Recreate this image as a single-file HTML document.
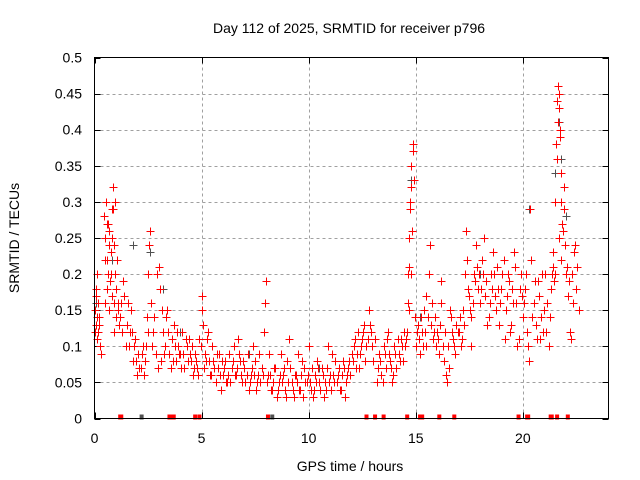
<!DOCTYPE html>
<html><head><meta charset="utf-8"><style>
html,body{margin:0;padding:0;background:#fff}
svg{display:block;font-family:"Liberation Sans",sans-serif}
</style></head><body>
<svg id="chart" width="640" height="480" viewBox="0 0 640 480" xmlns="http://www.w3.org/2000/svg">
<rect width="640" height="480" fill="#fff"/>
<text x="349" y="33" font-size="14" text-anchor="middle" fill="#000">Day 112 of 2025, SRMTID for receiver p796</text>
<text x="350" y="471" font-size="14" text-anchor="middle" fill="#000">GPS time / hours</text>
<text transform="translate(19,238) rotate(-90)" font-size="14" text-anchor="middle" fill="#000">SRMTID / TECUs</text>
<g id="grid"></g>
<g id="ticks"></g>
<g id="grey"></g>
<g id="red"></g>
<g id="flags"></g>
<rect x="94.5" y="57.5" width="514" height="361" fill="none" stroke="#000" stroke-width="1"/>
</svg>
<script>
const xTicks=[0,5,10,15,20];
const yTicks=[0,0.05,0.1,0.15,0.2,0.25,0.3,0.35,0.4,0.45,0.5];
const yTickLabels=["0","0.05","0.1","0.15","0.2","0.25","0.3","0.35","0.4","0.45","0.5"];
const redTimes=[0.02,0.05,0.08,0.1,0.12,0.15,0.18,0.2,0.25,0.3,
0.45,0.5,0.55,0.6,0.65,0.7,0.75,0.8,0.85,0.9,0.95,1.0,1.05,1.1,0.5,0.6,0.7,0.8,0.9,1.0,
1.2,1.3,1.4,1.5,1.6,1.7,1.8,1.9,2.0,1.35,1.55,1.75,
2.1,2.2,2.3,2.4,2.5,2.5,2.55,2.6,2.65,2.7,2.8,2.9,3.0,2.85,2.95,
3.1,3.2,3.3,3.4,3.5,3.6,3.7,3.8,3.9,4.0,4.1,4.2,4.3,4.4,4.5,4.6,4.7,4.8,4.9,5.0,5.0,5.05,3.35,3.55,
5.2,5.4,5.5,5.6,5.8,6.0,6.1,6.2,6.4,6.5,6.6,6.8,6.9,7.0,7.2,7.3,7.5,7.6,7.8,7.9,7.95,8.0,5.3,5.9,6.7,7.4,
8.1,8.3,8.4,8.5,8.6,8.8,8.9,9.0,9.2,9.3,9.4,9.5,9.6,9.8,9.9,10.0,10.1,10.3,10.4,10.5,10.6,10.8,11.0,11.1,11.2,11.4,11.5,11.6,11.8,12.0,8.7,9.1,10.2,10.9,11.7,
12.1,12.2,12.3,12.4,12.5,12.6,12.7,12.9,13.0,13.2,13.3,13.4,13.5,13.6,13.7,13.8,13.9,14.0,14.1,14.2,14.3,14.4,12.8,13.1,
14.6,14.65,14.7,14.75,14.8,14.85,14.9,14.7,14.8,14.95,15.0,15.1,15.2,
15.3,15.4,15.5,15.6,15.65,15.7,15.8,15.9,16.0,16.1,16.2,16.3,16.4,16.5,16.6,16.7,16.8,16.9,15.5,16.2,16.45,
17.0,17.1,17.2,17.3,17.35,17.4,17.5,17.6,17.7,17.8,17.9,18.0,18.1,18.2,18.3,18.4,18.5,18.6,18.7,18.8,18.9,19.0,19.1,19.2,19.3,19.4,19.5,19.6,19.7,19.8,19.9,20.0,17.6,18.35,19.15,19.75,
20.1,20.2,20.3,20.35,20.4,20.5,20.6,20.7,20.8,20.9,21.0,21.1,21.2,21.3,21.4,21.5,21.55,21.6,21.65,21.7,21.75,21.8,21.85,21.9,21.95,22.0,22.1,22.2,22.25,22.3,22.4,22.5,22.6,21.45,21.5,21.7,21.8,22.45];
const redValues=[0.15,0.18,0.13,0.2,0.11,0.16,0.12,0.14,0.1,0.09,
0.28,0.25,0.3,0.22,0.27,0.26,0.2,0.29,0.32,0.24,0.3,0.18,0.22,0.16,0.16,0.18,0.15,0.17,0.12,0.14,
0.14,0.12,0.17,0.13,0.1,0.15,0.08,0.11,0.06,0.19,0.16,0.12,
0.07,0.09,0.06,0.1,0.12,0.2,0.24,0.26,0.16,0.1,0.14,0.2,0.21,0.09,0.07,
0.08,0.12,0.1,0.15,0.09,0.11,0.13,0.08,0.1,0.09,0.12,0.07,0.1,0.11,0.08,0.06,0.09,0.07,0.11,0.15,0.17,0.13,0.14,0.07,
0.08,0.06,0.1,0.07,0.09,0.06,0.08,0.05,0.07,0.1,0.06,0.08,0.05,0.07,0.04,0.06,0.08,0.05,0.07,0.12,0.16,0.19,0.12,0.04,0.11,0.1,
0.06,0.04,0.07,0.03,0.05,0.06,0.04,0.08,0.05,0.03,0.06,0.09,0.04,0.07,0.05,0.1,0.04,0.06,0.08,0.05,0.07,0.04,0.06,0.09,0.05,0.07,0.04,0.08,0.06,0.09,0.09,0.11,0.03,0.1,0.03,
0.1,0.07,0.12,0.09,0.11,0.13,0.1,0.12,0.08,0.05,0.09,0.06,0.1,0.07,0.12,0.08,0.05,0.1,0.07,0.09,0.11,0.08,0.15,0.11,
0.12,0.2,0.25,0.3,0.35,0.38,0.33,0.15,0.2,0.14,0.1,0.13,0.09,
0.12,0.15,0.1,0.2,0.24,0.13,0.11,0.14,0.12,0.09,0.16,0.08,0.06,0.1,0.15,0.12,0.1,0.13,0.17,0.19,0.05,
0.12,0.1,0.15,0.2,0.26,0.22,0.17,0.14,0.2,0.24,0.18,0.16,0.22,0.25,0.19,0.14,0.2,0.23,0.17,0.21,0.13,0.18,0.22,0.15,0.2,0.12,0.18,0.23,0.16,0.11,0.2,0.14,0.1,0.13,0.11,0.1,
0.18,0.12,0.08,0.29,0.22,0.16,0.13,0.19,0.11,0.2,0.15,0.12,0.1,0.18,0.23,0.3,0.38,0.44,0.46,0.43,0.4,0.34,0.27,0.32,0.24,0.2,0.17,0.12,0.11,0.2,0.23,0.18,0.15,0.19,0.2,0.25,0.22,0.24];
const redTimes2=[0.03,0.07,0.14,0.22,0.28,0.48,0.58,0.68,0.78,0.88,0.98,1.08,0.62,0.72,0.82,0.92,1.15,1.25,1.45,1.65,1.85,1.95,
2.05,2.15,2.25,2.35,2.45,2.75,3.05,3.15,3.25,3.45,3.65,3.75,3.85,3.95,4.05,4.15,4.25,4.35,4.45,4.55,4.65,4.75,4.85,4.95,
5.1,5.15,5.25,5.35,5.45,5.55,5.65,5.7,5.75,5.85,5.95,6.05,6.15,6.25,6.3,6.35,6.45,6.55,6.65,6.75,6.85,6.95,7.05,7.1,7.15,7.25,7.35,7.45,7.55,7.65,7.7,7.75,7.85,
8.05,8.15,8.2,8.25,8.35,8.45,8.55,8.65,8.75,8.85,8.95,9.05,9.15,9.25,9.35,9.45,9.55,9.65,9.7,9.75,9.85,9.95,10.05,10.15,10.25,10.35,10.45,10.55,10.65,10.7,10.75,10.85,10.95,11.05,11.15,11.25,11.3,11.35,11.45,11.55,11.65,11.75,11.85,11.9,11.95,
12.05,12.15,12.25,12.35,12.45,12.55,12.65,12.75,12.85,12.95,13.25,13.35,13.45,13.55,13.65,13.75,13.85,13.95,14.05,14.15,14.25,14.35,14.45,14.5,14.55,
14.62,14.68,14.72,14.78,14.82,14.88,15.05,15.15,15.25,15.35,15.45,15.55,15.75,15.85,15.95,16.05,16.15,16.25,16.35,16.55,16.65,16.75,16.85,16.95,
17.05,17.15,17.25,17.45,17.55,17.65,17.75,17.85,17.95,18.05,18.15,18.25,18.45,18.55,18.65,18.75,18.85,18.95,19.05,19.25,19.35,19.45,19.55,19.65,19.85,19.95,
20.05,20.15,20.25,20.45,20.55,20.65,20.75,20.85,20.95,21.05,21.15,21.25,21.35,21.42,21.58,21.62,21.68,21.72,21.78,21.88,21.92,22.05,22.15,22.35,22.55];
const redValues2=[0.12,0.17,0.14,0.13,0.1,0.22,0.27,0.24,0.23,0.29,0.2,0.15,0.2,0.19,0.25,0.16,0.13,0.16,0.1,0.12,0.1,0.08,
0.09,0.07,0.1,0.08,0.14,0.12,0.18,0.15,0.09,0.12,0.08,0.1,0.12,0.09,0.07,0.09,0.11,0.08,0.09,0.1,0.07,0.08,0.06,0.1,
0.07,0.09,0.11,0.08,0.06,0.08,0.05,0.09,0.07,0.06,0.08,0.07,0.05,0.06,0.09,0.05,0.08,0.06,0.07,0.09,0.06,0.08,0.05,0.06,0.09,0.05,0.07,0.06,0.04,0.06,0.09,0.05,0.06,
0.05,0.09,0.06,0.04,0.05,0.07,0.04,0.06,0.05,0.07,0.03,0.05,0.07,0.04,0.06,0.05,0.04,0.06,0.08,0.03,0.05,0.06,0.05,0.07,0.04,0.05,0.07,0.04,0.06,0.03,0.05,0.07,0.05,0.04,0.06,0.08,0.05,0.06,0.04,0.06,0.07,0.05,0.07,0.08,0.06,
0.08,0.11,0.09,0.07,0.1,0.12,0.08,0.11,0.13,0.1,0.07,0.08,0.05,0.09,0.11,0.09,0.07,0.06,0.09,0.11,0.08,0.1,0.12,0.1,0.11,
0.16,0.21,0.29,0.32,0.26,0.37,0.12,0.11,0.14,0.1,0.12,0.14,0.16,0.12,0.1,0.11,0.13,0.1,0.12,0.07,0.14,0.11,0.09,0.12,
0.14,0.11,0.13,0.18,0.15,0.16,0.19,0.21,0.2,0.18,0.2,0.17,0.16,0.18,0.2,0.15,0.18,0.16,0.2,0.17,0.19,0.13,0.16,0.21,0.18,0.17,
0.16,0.2,0.1,0.14,0.19,0.11,0.17,0.14,0.12,0.2,0.16,0.14,0.2,0.21,0.36,0.41,0.45,0.39,0.3,0.26,0.29,0.21,0.19,0.16,0.21];
const greyTimes=[0.05,0.8,1.8,2.6,3.2,4.0,5.0,7.2,10.5,14.8,15.2,18.0,20.3,21.5,21.7,21.8,22.0];
const greyValues=[0.16,0.22,0.24,0.23,0.18,0.12,0.15,0.09,0.07,0.33,0.14,0.2,0.29,0.34,0.41,0.36,0.28];
const flagTimes=[1.2,1.25,3.5,3.6,3.7,4.7,4.9,8.1,12.7,13.1,13.5,14.6,15.2,15.3,16.1,16.8,19.8,20.2,20.25,21.3,21.35,21.6,22.1];
const greyFlagTimes=[2.2,8.3];

const X0=94.5,X1=608.5,Y0=418.5,Y1=57.5;
function sx(t){return X0+(t/24)*(X1-X0);}
function sy(v){return Y0-(v/0.5)*(Y0-Y1);}
const NS="http://www.w3.org/2000/svg";
function mk(tag,attrs,parent){const e=document.createElementNS(NS,tag);for(const k in attrs)e.setAttribute(k,attrs[k]);parent.appendChild(e);return e;}
const grid=document.getElementById('grid'),ticks=document.getElementById('ticks');
yTicks.forEach((v,i)=>{
  const y=Math.round(sy(v))+0.5;
  if(i>0&&i<yTicks.length-1){const g=mk('line',{x1:X0,x2:X1,y1:y,y2:y,stroke:'#a0a0a0','stroke-dasharray':'3,3'},grid);
  
  }
  const t1=mk('line',{x1:X0,x2:X0+6,y1:y,y2:y,stroke:'#000'},ticks);
  
  
  const t2=mk('line',{x1:X1-6,x2:X1,y1:y,y2:y,stroke:'#000'},ticks);
  
  
  const lb=mk('text',{x:82,y:sy(v)+5,'font-size':'14','text-anchor':'end',fill:'#000'},ticks);
  lb.textContent=yTickLabels[i];
  
  
});
xTicks.forEach(t=>{
  const x=Math.round(sx(t))+0.5;
  if(t>0){const g=mk('line',{x1:x,x2:x,y1:Y0,y2:Y1,stroke:'#a0a0a0','stroke-dasharray':'3,3'},grid);
  
  }
  const t1=mk('line',{x1:x,x2:x,y1:Y0,y2:Y0-6,stroke:'#000'},ticks);
  
  
  const t2=mk('line',{x1:x,x2:x,y1:Y1,y2:Y1+6,stroke:'#000'},ticks);
  
  
  const lb=mk('text',{x:sx(t),y:443,'font-size':'14','text-anchor':'middle',fill:'#000'},ticks);
  lb.textContent=String(t);
  
  
});
function plus(t,v,color,parent){
  const x=Math.round(sx(t))+0.5,y=Math.round(sy(v))+0.5;
  const p=mk('path',{d:`M${x-4},${y}H${x+4}M${x},${y-4}V${y+4}`,stroke:color,'stroke-width':'1',fill:'none'},parent);
  
  
}
const gG=document.getElementById('grey'),gR=document.getElementById('red'),gF=document.getElementById('flags');
greyTimes.forEach((t,i)=>plus(t,greyValues[i],'#505050',gG));
redTimes.forEach((t,i)=>plus(t,redValues[i],'#ff0000',gR));
redTimes2.forEach((t,i)=>plus(t,redValues2[i],'#ff0000',gR));
flagTimes.forEach(t=>{
  const r=mk('rect',{x:sx(t)-2,y:Y0-4,width:4,height:5,fill:'#ff0000'},gF);
  
  
});
greyFlagTimes.forEach(t=>{
  const r=mk('rect',{x:sx(t)-2,y:Y0-4,width:4,height:5,fill:'#505050'},gF);
  
  
});
</script>
</body></html>
